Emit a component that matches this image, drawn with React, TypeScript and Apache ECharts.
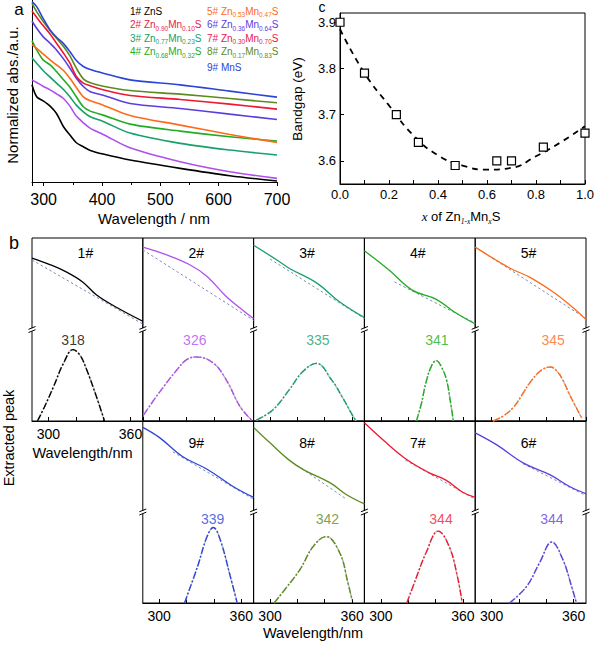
import React, { useEffect, useRef } from "react";
import * as echarts from "echarts";

const FONT = "'Liberation Sans', Arial, Helvetica, sans-serif";

// ---------- samples ----------
const sampleIds = ["1#", "2#", "3#", "4#", "5#", "6#", "7#", "8#", "9#"];
const znFrac = ["1", "0.90", "0.77", "0.68", "0.53", "0.36", "0.30", "0.17", "0"];
const mnFrac = ["0", "0.10", "0.23", "0.32", "0.47", "0.64", "0.70", "0.83", "1"];
const curveColors = ["#000000", "#b04ef0", "#17a06a", "#22ac22", "#ff6a1a", "#5a3ee0", "#f01830", "#5c8a1e", "#2c44d8"];
const legendColors = ["#000000", "#e8194d", "#17a06a", "#22ac22", "#ff6a1a", "#5a3ee0", "#e8194d", "#5c8a1e", "#2c44d8"];

// ---------- panel a : normalized absorbance ----------
const wavelengthA = [280, 288, 299, 311, 322, 334, 345, 356, 368, 380, 402, 448, 534, 619, 700];
const absA1 = [2.92, 2.56, 2.44, 2.28, 2.06, 1.66, 1.41, 1.18, 1.06, 0.95, 0.84, 0.66, 0.41, 0.19, 0.03];
const absA2 = [3.07, 2.99, 2.88, 2.77, 2.65, 2.51, 2.28, 1.98, 1.78, 1.61, 1.43, 1.03, 0.61, 0.31, 0.11];
const absA3 = [3.73, 3.57, 3.35, 3.15, 2.97, 2.78, 2.56, 2.31, 2.11, 1.96, 1.82, 1.47, 1.16, 0.96, 0.81];
const absA4 = [4.25, 3.97, 3.67, 3.52, 3.32, 3.07, 2.85, 2.56, 2.26, 2.13, 2.01, 1.74, 1.53, 1.36, 1.23];
const absA5 = [4.13, 4.02, 3.85, 3.67, 3.52, 3.35, 3.12, 2.84, 2.56, 2.44, 2.31, 2.0, 1.71, 1.43, 1.19];
const absA6 = [4.84, 4.62, 4.37, 4.17, 3.97, 3.7, 3.42, 3.12, 2.87, 2.71, 2.61, 2.36, 2.21, 2.04, 1.88];
const absA7 = [5.14, 4.95, 4.7, 4.45, 4.17, 3.87, 3.57, 3.17, 2.97, 2.89, 2.77, 2.6, 2.48, 2.34, 2.19];
const absA8 = [5.37, 5.12, 4.83, 4.55, 4.32, 4.07, 3.79, 3.42, 3.1, 2.98, 2.88, 2.75, 2.64, 2.51, 2.38];
const absA9 = [5.42, 5.27, 4.92, 4.57, 4.35, 4.16, 3.92, 3.65, 3.47, 3.38, 3.27, 3.07, 2.92, 2.73, 2.55];

// ---------- panel b : absorption edge (upper half, 1..2) and extracted peak (lower half, 0..1) ----------
const absB1 = [[288, 1.78], [301, 1.71], [313, 1.63], [325, 1.52], [335, 1.38], [350, 1.24], [369, 1.09]];
const absB2 = [[288, 1.9], [305.5, 1.815], [322, 1.71], [335, 1.58], [349, 1.36], [362, 1.2], [369, 1.12]];
const absB3 = [[288, 1.92], [305, 1.76], [314, 1.67], [334, 1.51], [351, 1.3], [369, 1.13]];
const absB4 = [[288, 1.86], [306, 1.65], [323, 1.43], [340.5, 1.33], [355, 1.18], [369, 1.06]];
const absB5 = [[288, 1.9], [313.5, 1.67], [328, 1.57], [345, 1.41], [357, 1.27], [369, 1.11]];
const absB6 = [[288, 1.87], [303.5, 1.74], [323, 1.54], [342.5, 1.41], [357, 1.28], [369, 1.2]];
const absB7 = [[288, 1.98], [304, 1.76], [318.6, 1.58], [335.5, 1.43], [347.6, 1.35], [359.5, 1.22], [369, 1.16]];
const absB8 = [[288, 1.93], [300, 1.76], [314, 1.57], [325, 1.46], [344, 1.32], [356, 1.19], [369, 1.09]];
const absB9 = [[288, 1.93], [300, 1.82], [317, 1.61], [335, 1.47], [354, 1.28], [369, 1.16]];

const baseB1 = [[288, 1.76], [369, 1.06]];
const baseB2 = [[288, 1.87], [369, 1.1]];
const baseB3 = [[300, 1.77], [369, 1.12]];
const baseB4 = [[310, 1.52], [369, 1.07]];
const baseB5 = [[288, 1.9], [369, 1.12]];
const baseB6 = [[323, 1.53], [369, 1.18]];
const baseB7 = [[318, 1.57], [369, 1.14]];
const baseB8 = [[320, 1.51], [356, 1.14]];
const baseB9 = [[310, 1.66], [369, 1.14]];

const peakB1 = [[292, 0], [297, 0.15], [303.6, 0.37], [311, 0.63], [318, 0.78], [323, 0.72], [328, 0.56], [335, 0.27], [341, 0]];
const peakB2 = [[288.7, 0.07], [300, 0.31], [313, 0.56], [320, 0.67], [327, 0.7], [339, 0.64], [349, 0.45], [359, 0.16], [367.5, 0.01]];
const peakB3 = [[290, 0.01], [302, 0.12], [314, 0.34], [324, 0.54], [334, 0.63], [345, 0.45], [352.5, 0.27], [360, 0.07], [363, 0]];
const peakB4 = [[326, 0], [329.5, 0.18], [333, 0.42], [337, 0.6], [340.5, 0.66], [344, 0.6], [348, 0.45], [351, 0.2], [353, 0]];
const peakB5 = [[301, 0], [308, 0.05], [316, 0.15], [322, 0.28], [328, 0.42], [336, 0.55], [343, 0.59], [348, 0.54], [352, 0.45], [356, 0.32], [360, 0.2], [366, 0.03]];
const peakB6 = [[313, 0], [325.5, 0.18], [335, 0.44], [344, 0.67], [352, 0.48], [358.5, 0.18], [362, 0]];
const peakB7 = [[319, 0], [325.5, 0.26], [333, 0.55], [342, 0.79], [350, 0.62], [356, 0.29], [359.5, 0]];
const peakB8 = [[303, 0], [312, 0.17], [322, 0.37], [331.5, 0.62], [341, 0.73], [351, 0.55], [357, 0.22], [360, 0.03]];
const peakB9 = [[318.5, 0], [328, 0.4], [335, 0.73], [339.5, 0.83], [344.5, 0.7], [352, 0.29], [357, 0]];

const peakNm = [318, 326, 335, 341, 345, 344, 344, 342, 339];
const cellTickLabels = [300, 360];

// ---------- panel c : bandgap ----------
const xMn = [0, 0.1, 0.23, 0.32, 0.47, 0.64, 0.7, 0.83, 1.0];
const bandgap = [3.9, 3.79, 3.7, 3.64, 3.59, 3.6, 3.6, 3.63, 3.66];
const fitX = [0, 0.1, 0.2, 0.3, 0.4, 0.5, 0.6, 0.7, 0.8, 0.9, 1.0];
const fitY = [3.885, 3.79, 3.72, 3.655, 3.612, 3.59, 3.581, 3.585, 3.61, 3.64, 3.675];

const absA = [absA1, absA2, absA3, absA4, absA5, absA6, absA7, absA8, absA9];
const absB = [absB1, absB2, absB3, absB4, absB5, absB6, absB7, absB8, absB9];
const baseB = [baseB1, baseB2, baseB3, baseB4, baseB5, baseB6, baseB7, baseB8, baseB9];
const peakB = [peakB1, peakB2, peakB3, peakB4, peakB5, peakB6, peakB7, peakB8, peakB9];

// layout of panel b cells (sample index -> row/col)
const CELL_W = 110.8;
const CELL_X0 = 32;
const ROW_TOP = [238, 421];
const ROW_H = [183, 182];
const cellPos = [
  { row: 0, col: 0 }, { row: 0, col: 1 }, { row: 0, col: 2 }, { row: 0, col: 3 }, { row: 0, col: 4 },
  { row: 1, col: 4 }, { row: 1, col: 3 }, { row: 1, col: 2 }, { row: 1, col: 1 },
];

function formulaRich(i: number): string {
  if (i === 0) return "{n|1# ZnS}";
  if (i === 8) return "{n|9# MnS}";
  return `{n|${sampleIds[i]} Zn}{s|${znFrac[i]}}{n|Mn}{s|${mnFrac[i]}}{n|S}`;
}

function textEl(text: string, x: number, y: number, size: number, opts: any = {}) {
  return {
    type: "text",
    x,
    y,
    rotation: opts.rotation || 0,
    silent: true,
    z: 100,
    style: {
      text,
      fill: opts.color || "#000",
      fontSize: size,
      fontFamily: FONT,
      fontWeight: opts.weight || "normal",
      align: opts.align || "center",
      verticalAlign: "middle",
      textAlign: opts.align || "center",
      textVerticalAlign: "middle",
      rich: opts.rich,
    },
  };
}

function breakMark(x: number, y: number) {
  return [
    { type: "rect", silent: true, z: 101, shape: { x: x - 1.5, y: y - 1.3, width: 3, height: 3 }, style: { fill: "#fff" } },
    { type: "line", silent: true, z: 102, shape: { x1: x - 3.5, y1: y - 0.2, x2: x + 3.5, y2: y - 3 }, style: { stroke: "#000", lineWidth: 1 } },
    { type: "line", silent: true, z: 102, shape: { x1: x - 3.5, y1: y + 3, x2: x + 3.5, y2: y + 0.2 }, style: { stroke: "#000", lineWidth: 1 } },
  ];
}

function buildOption() {
  const grids: any[] = [];
  const xAxes: any[] = [];
  const yAxes: any[] = [];
  const series: any[] = [];
  const graphics: any[] = [];
  const black = { color: "#000", width: 1 };

  // panel a
  grids.push({ left: 32, top: 0, width: 245, height: 182, outerBoundsMode: "none" });
  xAxes.push({
    gridIndex: 0, type: "value", min: 280, max: 700,
    axisLine: { show: true, lineStyle: black },
    axisTick: { show: true, inside: false, length: 4, lineStyle: black },
    minorTick: { show: true, splitNumber: 2, length: 3, lineStyle: black },
    axisLabel: { show: true, fontSize: 16, color: "#000", fontFamily: FONT, margin: 9, showMinLabel: false },
    splitLine: { show: false }, minorSplitLine: { show: false },
  });
  yAxes.push({
    gridIndex: 0, type: "value", min: 0, max: 5.47,
    axisLine: { show: true, lineStyle: black }, axisTick: { show: false }, axisLabel: { show: false }, splitLine: { show: false },
  });
  absA.forEach((arr, i) => {
    series.push({
      type: "line", xAxisIndex: 0, yAxisIndex: 0, silent: true, symbol: "none", smooth: 0.3,
      data: wavelengthA.map((w, j) => [w, arr[j]]),
      lineStyle: { color: curveColors[i], width: 1.6 },
      z: 2 + i,
    });
  });

  // panel c
  grids.push({ left: 340, top: 13, width: 245, height: 171, show: true, borderColor: "#000", borderWidth: 1, outerBoundsMode: "none" });
  xAxes.push({
    gridIndex: 1, type: "value", min: 0, max: 1, interval: 0.1,
    axisLine: { show: true, lineStyle: black },
    axisTick: { show: true, inside: true, length: 4, lineStyle: black },
    axisLabel: {
      fontSize: 13, color: "#000", fontFamily: FONT, margin: 4,
      formatter: (v: number) => { const k = Math.round(v * 10); return k % 2 === 0 ? (k / 10).toFixed(1) : ""; },
    },
    splitLine: { show: false },
  });
  yAxes.push({
    gridIndex: 1, type: "value", min: 3.55, max: 3.92,
    axisLine: { show: true, lineStyle: black },
    axisTick: { show: true, inside: true, length: 4, lineStyle: black },
    axisLabel: { fontSize: 13, color: "#000", fontFamily: FONT, margin: 4, showMinLabel: false, showMaxLabel: false, formatter: (v: number) => v.toFixed(1) },
    splitLine: { show: false },
  });
  series.push({
    type: "line", xAxisIndex: 1, yAxisIndex: 1, silent: true, symbol: "none", smooth: true,
    data: fitX.map((x, j) => [x, fitY[j]]),
    lineStyle: { color: "#000", width: 1.8, type: [6, 5] }, z: 2,
  });
  series.push({
    type: "scatter", xAxisIndex: 1, yAxisIndex: 1, silent: true, symbol: "rect", symbolSize: 8,
    data: xMn.map((x, j) => [x, bandgap[j]]),
    itemStyle: { color: "#fff", borderColor: "#000", borderWidth: 1.2, opacity: 1 }, z: 5,
  });

  // panel b cells
  cellPos.forEach((p, i) => {
    const gi = grids.length;
    const left = CELL_X0 + p.col * CELL_W;
    const top = ROW_TOP[p.row];
    const h = ROW_H[p.row];
    grids.push({ left, top, width: CELL_W, height: h, show: true, borderColor: "#000", borderWidth: 1, outerBoundsMode: "none" });
    const showLab = p.row === 1 || p.col === 0;
    xAxes.push({
      gridIndex: gi, type: "value", min: 288, max: 369,
      axisLine: { show: true, lineStyle: black },
      axisTick: { show: true, inside: true, length: 4, lineStyle: black },
      axisLabel: {
        show: showLab, fontSize: 14, color: "#000", fontFamily: FONT, margin: 6, showMinLabel: false, showMaxLabel: false,
        formatter: (v: number) => (cellTickLabels.indexOf(Math.round(v)) >= 0 ? String(Math.round(v)) : ""),
      },
      splitLine: { show: false },
    });
    yAxes.push({ gridIndex: gi, type: "value", min: 0, max: 2, show: false });
    const c = curveColors[i];
    series.push({
      type: "line", xAxisIndex: gi, yAxisIndex: gi, silent: true, symbol: "none",
      data: baseB[i], lineStyle: { color: "#7b8bb5", width: 1, type: [2.5, 2.5] }, z: 2,
    });
    series.push({
      type: "line", xAxisIndex: gi, yAxisIndex: gi, silent: true, symbol: "none", smooth: 0.4,
      data: absB[i], lineStyle: { color: c, width: 1.3 }, z: 3,
    });
    series.push({
      type: "line", xAxisIndex: gi, yAxisIndex: gi, silent: true, symbol: "none", smooth: 0.4,
      data: peakB[i], lineStyle: { color: "#b4b4b4", width: 1.6, type: "dotted" }, z: 2,
    });
    series.push({
      type: "line", xAxisIndex: gi, yAxisIndex: gi, silent: true, symbol: "none", smooth: 0.4,
      data: peakB[i], lineStyle: { color: c, width: 1.4, type: [7, 2, 2, 2] }, z: 3,
    });
    series.push({
      type: "scatter", xAxisIndex: gi, yAxisIndex: gi, silent: true, symbolSize: 1,
      data: [[peakNm[i], p.row === 0 ? 0.89 : 0.92]],
      itemStyle: { color: "transparent" },
      label: { show: true, position: "inside", formatter: String(peakNm[i]), color: c, fontSize: 14, fontFamily: FONT },
      z: 6,
    });
    graphics.push(textEl(sampleIds[i], left + CELL_W / 2 - 2, p.row === 0 ? 253 : 443, 14));
  });

  // break marks
  for (let k = 0; k <= 5; k++) graphics.push(...breakMark(CELL_X0 + k * CELL_W, ROW_TOP[0] + ROW_H[0] / 2));
  for (let k = 1; k <= 5; k++) graphics.push(...breakMark(CELL_X0 + k * CELL_W, ROW_TOP[1] + ROW_H[1] / 2));

  // legend of panel a
  const legX = [130, 207];
  const legY = [11, 24.5, 38, 51.5, 11, 24.5, 38, 51.5, 67.5];
  for (let i = 0; i < 9; i++) {
    const col = i < 4 ? 0 : 1;
    const color = legendColors[i];
    graphics.push(
      textEl(formulaRich(i), legX[col], legY[i], 10, {
        align: "left", color,
        rich: {
          n: { fontSize: 10, fontFamily: FONT, lineHeight: 14, fill: color, color },
          s: { fontSize: 6.5, fontFamily: FONT, lineHeight: 14, verticalAlign: "bottom", fill: color, color },
        },
      })
    );
  }

  // texts
  graphics.push(textEl("a", 19, 9.5, 17));
  graphics.push(textEl("b", 14, 243, 18));
  graphics.push(textEl("c", 322, 7, 14));
  graphics.push(textEl("Normalized abs./a.u.", 12, 95, 15, { rotation: Math.PI / 2 }));
  graphics.push(textEl("Wavelength / nm", 154, 218, 15));
  graphics.push(textEl("Bandgap (eV)", 297, 99, 13.5, { rotation: Math.PI / 2 }));
  graphics.push(
    textEl("{i|x}{n| of Zn}{si|1-x}{n|Mn}{si|x}{n|S}", 461, 216, 13, {
      rich: {
        n: { fontSize: 13, fontFamily: FONT, lineHeight: 18 },
        i: { fontSize: 13, fontFamily: "'Liberation Serif', serif", fontStyle: "italic", lineHeight: 18 },
        si: { fontSize: 7.5, fontFamily: "'Liberation Serif', serif", fontStyle: "italic", lineHeight: 18, verticalAlign: "bottom" },
      },
    })
  );
  graphics.push(textEl("Wavelength/nm", 82.5, 453, 14.5));
  graphics.push(textEl("Wavelength/nm", 313, 633, 14.5));
  graphics.push(textEl("Extracted peak", 9, 438, 14.5, { rotation: Math.PI / 2 }));

  return {
    animation: false,
    backgroundColor: "#fff",
    textStyle: { fontFamily: FONT },
    grid: grids,
    xAxis: xAxes,
    yAxis: yAxes,
    series,
    graphic: { elements: graphics },
  };
}

export default function App() {
  const ref = useRef<HTMLDivElement>(null);
  useEffect(() => {
    if (!ref.current) return;
    const chart = echarts.init(ref.current, null, { renderer: "svg" });
    chart.setOption(buildOption() as any);
    return () => chart.dispose();
  }, []);
  return <div ref={ref} style={{ position: "absolute", left: 0, top: 0, width: 597, height: 645 }} />;
}
